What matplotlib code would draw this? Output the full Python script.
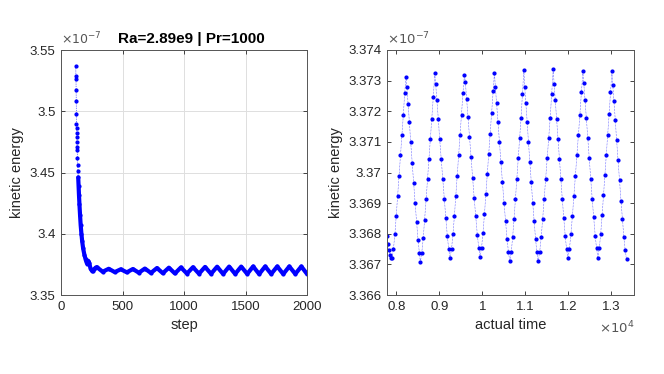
import matplotlib
matplotlib.use("Agg")
import matplotlib.pyplot as plt
from matplotlib.ticker import FuncFormatter

plt.rcParams['font.family'] = ['Liberation Sans', 'DejaVu Sans']

# kinetic energy in units of 1e-7
# left panel: energy vs step
step = [120, 121, 122, 123, 124, 125, 126, 127, 128, 129, 130, 131, 132, 134, 136, 138,
        140, 143, 146, 150, 155, 160, 166, 172, 180, 190, 200, 208, 215, 222, 230, 240,
        250, 260, 270, 280,
        290, 339, 388, 437, 486, 535, 584, 633, 682, 731, 780, 828, 877, 926, 975, 1024,
        1073, 1122, 1171, 1220, 1269, 1318, 1367, 1416, 1465, 1514, 1562, 1611, 1660,
        1709, 1758, 1807, 1856, 1905, 1954, 2000]
ke_step = [3.5369, 3.5290, 3.5260, 3.5170, 3.5080, 3.4980, 3.4900, 3.4860, 3.4820, 3.4790,
           3.4750, 3.4710, 3.4680, 3.4620, 3.4560, 3.4510, 3.4460, 3.4390, 3.4320, 3.4240,
           3.4150, 3.4070, 3.4000, 3.3940, 3.3880, 3.3830, 3.3790, 3.3765, 3.3755, 3.3778,
           3.3760, 3.3715, 3.3700, 3.3695, 3.3710, 3.3722,
           3.3728, 3.3690, 3.3714, 3.3687, 3.3710, 3.3685, 3.3712, 3.3682, 3.3716, 3.3680,
           3.3720, 3.3678, 3.3723, 3.3676, 3.3725, 3.3675, 3.3727, 3.3674, 3.3729, 3.3673,
           3.3731, 3.3672, 3.3732, 3.3672, 3.3732, 3.3672, 3.3733, 3.3671, 3.3733, 3.3672,
           3.3733, 3.3671, 3.3733, 3.3672, 3.3733, 3.3672]

# right panel: energy vs actual time (tail of the run)
time = [7783, 7805, 7828, 7852, 7876,
        7900, 7932, 7967, 7998, 8031, 8064, 8096, 8130, 8163, 8195, 8226,
        8246, 8274, 8304, 8335, 8369, 8403, 8437, 8471, 8505, 8535,
        8559, 8592, 8626, 8659, 8693, 8726, 8760, 8793, 8827, 8861, 8894,
        8915, 8944, 8976, 9008, 9044, 9080, 9115, 9151, 9187, 9219,
        9251, 9284, 9318, 9351, 9384, 9418, 9451, 9484, 9517, 9551, 9584,
        9606, 9635, 9668, 9701, 9738, 9774, 9811, 9848, 9884, 9917,
        9950, 9983, 10017, 10050, 10083, 10117, 10150, 10183, 10216, 10250, 10283,
        10304, 10333, 10365, 10398, 10433, 10469, 10505, 10541, 10577, 10609,
        10641, 10674, 10706, 10739, 10771, 10804, 10837, 10869, 10902, 10934, 10967,
        10987, 11014, 11044, 11074, 11107, 11140, 11173, 11207, 11240, 11270,
        11300, 11335, 11370, 11405, 11440, 11475, 11510, 11545, 11580, 11615, 11650,
        11671, 11698, 11729, 11759, 11794, 11828, 11862, 11896, 11930, 11961,
        11992, 12027, 12062, 12097, 12132, 12167, 12201, 12236, 12271, 12306, 12341,
        12362, 12390, 12421, 12453, 12488, 12522, 12557, 12592, 12627, 12659,
        12690, 12723, 12755, 12788, 12820, 12853, 12886, 12918, 12951, 12983, 13016,
        13036, 13064, 13094, 13125, 13159, 13193, 13227, 13261, 13295, 13325, 13356]
ke_time = [3.36792, 3.36768, 3.36748, 3.36732, 3.36722,
           3.36720, 3.36750, 3.36798, 3.36858, 3.36924, 3.36990, 3.37056, 3.37122, 3.37188, 3.37260, 3.37313,
           3.37278, 3.37224, 3.37164, 3.37098, 3.37032, 3.36966, 3.36900, 3.36840, 3.36780, 3.36738,
           3.36708, 3.36738, 3.36786, 3.36846, 3.36912, 3.36978, 3.37044, 3.37110, 3.37176, 3.37248, 3.37324,
           3.37290, 3.37236, 3.37176, 3.37110, 3.37044, 3.36978, 3.36912, 3.36852, 3.36792, 3.36750,
           3.36720, 3.36750, 3.36798, 3.36858, 3.36924, 3.36990, 3.37056, 3.37122, 3.37188, 3.37260, 3.37318,
           3.37295, 3.37241, 3.37181, 3.37115, 3.37049, 3.36983, 3.36917, 3.36857, 3.36797, 3.36755,
           3.36725, 3.36755, 3.36803, 3.36863, 3.36929, 3.36995, 3.37061, 3.37127, 3.37193, 3.37265, 3.37325,
           3.37280, 3.37226, 3.37166, 3.37100, 3.37034, 3.36968, 3.36902, 3.36842, 3.36782, 3.36740,
           3.36710, 3.36740, 3.36788, 3.36848, 3.36914, 3.36980, 3.37046, 3.37112, 3.37178, 3.37256, 3.37335,
           3.37280, 3.37226, 3.37166, 3.37100, 3.37034, 3.36968, 3.36902, 3.36842, 3.36782, 3.36740,
           3.36710, 3.36740, 3.36788, 3.36848, 3.36914, 3.36980, 3.37046, 3.37112, 3.37178, 3.37256, 3.37337,
           3.37290, 3.37236, 3.37176, 3.37110, 3.37044, 3.36978, 3.36912, 3.36852, 3.36792, 3.36750,
           3.36720, 3.36750, 3.36798, 3.36858, 3.36924, 3.36990, 3.37056, 3.37122, 3.37188, 3.37262, 3.37330,
           3.37292, 3.37238, 3.37178, 3.37112, 3.37046, 3.36980, 3.36914, 3.36854, 3.36794, 3.36752,
           3.36722, 3.36752, 3.36800, 3.36860, 3.36926, 3.36992, 3.37058, 3.37124, 3.37190, 3.37262, 3.37331,
           3.37286, 3.37232, 3.37172, 3.37106, 3.37040, 3.36974, 3.36908, 3.36848, 3.36788, 3.36746, 3.36716]

dark = '#262626'
fmt = FuncFormatter(lambda v, p: f"{round(v, 4):g}")

fig = plt.figure(figsize=(6.64, 3.74), dpi=100)
ax1 = fig.add_axes([61/664, 79/374, 246/664, 245/374])
ax2 = fig.add_axes([387/664, 79/374, 247/664, 245/374])

# left: dotted markers + thick band where the dots are dense
ax1.plot(step, ke_step, ':', color='blue', marker='.', markersize=4, linewidth=0.5)
n0 = step.index(140)
ax1.plot(step[n0:], ke_step[n0:], '-', color='blue', linewidth=3.0, solid_capstyle='round')
ax1.set_xlim(0, 2000)
ax1.set_ylim(3.35, 3.55)
ax1.set_xticks([0, 500, 1000, 1500, 2000])
ax1.set_yticks([3.35, 3.4, 3.45, 3.5, 3.55])
ax1.yaxis.set_major_formatter(fmt)
ax1.grid(True, color='#dedede', linewidth=0.7)
ax1.set_xlabel('step', fontsize=10.5, color=dark)
ax1.set_ylabel('kinetic energy', fontsize=10.5, color=dark)
ax1.set_title('Ra=2.89e9 | Pr=1000', fontsize=11, fontweight='bold', pad=5, x=0.53)
ax1.text(0, 1.01, r'$\times10^{-7}$', transform=ax1.transAxes, fontsize=9,
         color='#555555', ha='left', va='bottom')

# right
ax2.plot(time, ke_time, ':', color='blue', marker='.', markersize=4, linewidth=0.4)
ax2.set_xlim(7783, 13530)
ax2.set_ylim(3.366, 3.374)
ax2.set_xticks([8000, 9000, 10000, 11000, 12000, 13000])
ax2.set_yticks([3.366, 3.367, 3.368, 3.369, 3.37, 3.371, 3.372, 3.373, 3.374])
ax2.xaxis.set_major_formatter(FuncFormatter(lambda v, p: f"{v/1e4:g}"))
ax2.yaxis.set_major_formatter(fmt)
ax2.set_xlabel('actual time', fontsize=10.5, color=dark)
ax2.set_ylabel('kinetic energy', fontsize=10.5, color=dark)
ax2.text(0, 1.01, r'$\times10^{-7}$', transform=ax2.transAxes, fontsize=9.5,
         color='#555555', ha='left', va='bottom')
ax2.text(1, -0.1, r'$\times10^{4}$', transform=ax2.transAxes, fontsize=9.5,
         color='#555555', ha='right', va='top')

for ax in [ax1, ax2]:
    ax.tick_params(direction='in', length=3, width=0.6, top=True, right=True,
                   labelsize=9.5, colors=dark, pad=4)
    for s in ax.spines.values():
        s.set_color('#555555')
        s.set_linewidth(0.7)
    ax.set_axisbelow(True)

plt.savefig('out.png', dpi=100)
